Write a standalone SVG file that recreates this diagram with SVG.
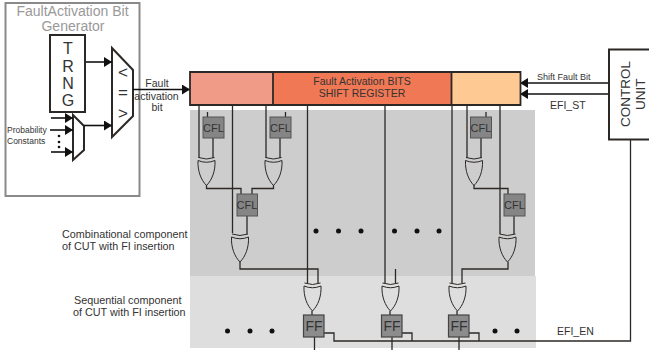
<svg xmlns="http://www.w3.org/2000/svg" xmlns:xlink="http://www.w3.org/1999/xlink" width="649" height="351" viewBox="0 0 649 351">
<style>
text{font-family:"Liberation Sans",Arial,sans-serif;fill:#333}
.w{fill:none;stroke:#2c2826;stroke-width:1.3}
.b{fill:none;stroke:#111;stroke-width:1.6}
.box{fill:#fff;stroke:#2c2826;stroke-width:2}
.cfl{fill:#858585;stroke:#555;stroke-width:1}
.ff{fill:#8c8c8c;stroke:#444;stroke-width:1.2}
.gate{fill:none;stroke:#2c2826;stroke-width:1}
.dot{fill:#111}
.t10{font-size:10.5px}
.c{text-anchor:middle}
</style>
<defs>
<marker id="ah" markerUnits="userSpaceOnUse" markerWidth="9" markerHeight="10" refX="8" refY="5" orient="auto"><path d="M0,0 L8,5 L0,10 Z" fill="#111"/></marker>
<g id="xor"><path class="gate" d="M0.500,0.500 Q8.500,3.500 16.500,0.500 M0,3.500 Q8.500,7 17,3.500 C17.500,14 14,23 8.500,28.500 C3,23 -0.500,14 0,3.500 Z"/></g>
</defs>
<rect width="649" height="351" fill="#fff"/>
<g id="combinational-area"><rect x="190" y="110" width="345" height="166" fill="#cdcdcd"/></g>
<g id="sequential-area"><rect x="190" y="276" width="346" height="72" fill="#dedede"/></g>
<g id="generator">
<rect x="5.500" y="3" width="134" height="193" fill="#fff" stroke="#8a8a8a" stroke-width="2"/>
<text x="72.500" y="15.500" class="c" font-size="14" style="fill:#999">FaultActivation Bit</text>
<text x="73" y="31" class="c" font-size="14" style="fill:#999">Generator</text>
</g>
<g id="trng"><rect x="50" y="35" width="35" height="77" class="box"/>
<text x="68" y="54" class="c" font-size="16">T</text><text x="68" y="72" class="c" font-size="16">R</text><text x="68" y="89" class="c" font-size="16">N</text><text x="68" y="106" class="c" font-size="16">G</text></g>
<g id="comparator"><polygon points="112,48 133,70 133,116 112,137" class="box"/>
<text x="123" y="78" class="c" font-size="17">&lt;</text><text x="123" y="98" class="c" font-size="17">=</text><text x="123" y="119" class="c" font-size="17">&gt;</text></g>
<g id="const-mux"><polygon points="73,115 84,126 84,150 73,160" class="box"/>
<circle class="dot" cx="59" cy="136" r="1.300"/><circle class="dot" cx="59" cy="142" r="1.300"/><circle class="dot" cx="59" cy="147" r="1.300"/>
<text x="7" y="133" font-size="8.500">Probability</text><text x="7" y="144" font-size="8.500">Constants</text></g>
<g id="connectors">
<path class="b" d="M86,62H112" marker-end="url(#ah)"/>
<path class="b" d="M84,125.500H112" marker-end="url(#ah)"/>
<path class="b" d="M51,118H73" marker-end="url(#ah)"/>
<path class="b" d="M50,130H73" marker-end="url(#ah)"/>
<path class="b" d="M51,152H73" marker-end="url(#ah)"/>
<path class="b" d="M133,89.500H190" marker-end="url(#ah)"/>
<path class="b" d="M609,83H520" marker-end="url(#ah)"/>
<path class="b" d="M609,94H520" marker-end="url(#ah)"/>
<path class="w" d="M199,105V158M232.500,105V233M266,105V158M307.500,105V283M385,105V283M452,105V283M467,105V158M500,105V234"/>
<path class="w" d="M213,138V158M280,138V158M247,216V234M481,138V158M514,216V234M207.500,112V117M285.500,112V117M486,112V117"/>
<path class="w" d="M206.500,185V188.500H241V194M273.500,185V188.500H252V194M474,185V188.500H508V194"/>
<path class="w" d="M240,262V269H318V283M395.500,269V283M508,262V269H462V283"/>
<path class="w" d="M312,311V315M390,311V315M457,311V315M314.500,337V350M392,337V350M459,337V350"/>
<path class="w" d="M324,333H334V341H630.500V140M402,333H412V341M469,333H479V341" stroke-width="1.500"/>
</g>
<g id="shift-register">
<rect x="190" y="72" width="83" height="33" fill="#f09a88"/><rect x="273" y="72" width="178" height="33" fill="#f07855"/><rect x="451" y="72" width="69" height="33" fill="#ffc994"/>
<path d="M190,72H520.500V105H190ZM273,72V105M451.500,72V105" fill="none" stroke="#2c2826" stroke-width="1.800"/>
<text x="362" y="85" class="c t10">Fault Activation BITS</text><text x="362" y="97" class="c t10">SHIFT REGISTER</text>
</g>
<g id="cfl1"><rect x="203" y="117" width="21" height="21" class="cfl"/><text x="213.500" y="131.500" class="c" font-size="11">CFL</text></g>
<g id="cfl2"><rect x="270" y="117" width="21" height="21" class="cfl"/><text x="280.500" y="131.500" class="c" font-size="11">CFL</text></g>
<g id="cfl3"><rect x="237" y="194" width="20.500" height="22" class="cfl"/><text x="247" y="208.500" class="c" font-size="11">CFL</text></g>
<g id="cfl4"><rect x="470.500" y="117" width="21" height="21" class="cfl"/><text x="481" y="131.500" class="c" font-size="11">CFL</text></g>
<g id="cfl5"><rect x="504" y="194" width="21" height="22" class="cfl"/><text x="514.500" y="208.500" class="c" font-size="11">CFL</text></g>
<g id="xor1"><use xlink:href="#xor" href="#xor" x="198" y="157"/></g>
<g id="xor2"><use xlink:href="#xor" href="#xor" x="265" y="157"/></g>
<g id="xor3"><use xlink:href="#xor" href="#xor" x="231.500" y="233.500"/></g>
<g id="xor4"><use xlink:href="#xor" href="#xor" x="465.500" y="157"/></g>
<g id="xor5"><use xlink:href="#xor" href="#xor" x="499" y="233.500"/></g>
<g id="xor6"><use xlink:href="#xor" href="#xor" x="304" y="282.500"/></g>
<g id="xor7"><use xlink:href="#xor" href="#xor" x="382" y="282.500"/></g>
<g id="xor8"><use xlink:href="#xor" href="#xor" x="449" y="282.500"/></g>
<g id="ff1"><rect x="303.500" y="315" width="20.500" height="22" class="ff"/><text x="314" y="331" class="c" font-size="14">FF</text></g>
<g id="ff2"><rect x="381.500" y="315" width="20.500" height="22" class="ff"/><text x="392" y="331" class="c" font-size="14">FF</text></g>
<g id="ff3"><rect x="448.500" y="315" width="20.500" height="22" class="ff"/><text x="459" y="331" class="c" font-size="14">FF</text></g>
<g id="control-unit"><rect x="609" y="49.500" width="41" height="90" class="box"/>
<text transform="translate(630,127) rotate(-90)" font-size="13.500">CONTROL</text><text transform="translate(645,110) rotate(-90)" font-size="13.500">UNIT</text></g>
<g id="dots">
<circle class="dot" cx="316" cy="231" r="2.500"/><circle class="dot" cx="338.500" cy="231" r="2.500"/><circle class="dot" cx="361" cy="231" r="2.500"/><circle class="dot" cx="394.500" cy="231" r="2.500"/><circle class="dot" cx="417" cy="231" r="2.500"/><circle class="dot" cx="439" cy="231" r="2.500"/>
<circle class="dot" cx="227.500" cy="331" r="2.500"/><circle class="dot" cx="250" cy="331" r="2.500"/><circle class="dot" cx="272" cy="331" r="2.500"/><circle class="dot" cx="495" cy="331" r="2.500"/><circle class="dot" cx="517" cy="331" r="2.500"/>
</g>
<g id="labels">
<text x="157" y="87" class="c t10">Fault</text><text x="156.500" y="99.500" class="c t10">activation</text><text x="157" y="111" class="c t10">bit</text>
<text x="537" y="80" font-size="9">Shift Fault Bit</text>
<text x="550" y="109" font-size="10.500">EFI_ST</text>
<text x="557" y="335" font-size="10.500">EFI_EN</text>
<text x="62" y="238" font-size="10.800">Combinational component</text><text x="62" y="250" font-size="10.800">of CUT with FI insertion</text>
<text x="74" y="304" font-size="10.800">Sequential component</text><text x="73" y="316" font-size="10.800">of CUT with FI insertion</text>
</g>
</svg>
